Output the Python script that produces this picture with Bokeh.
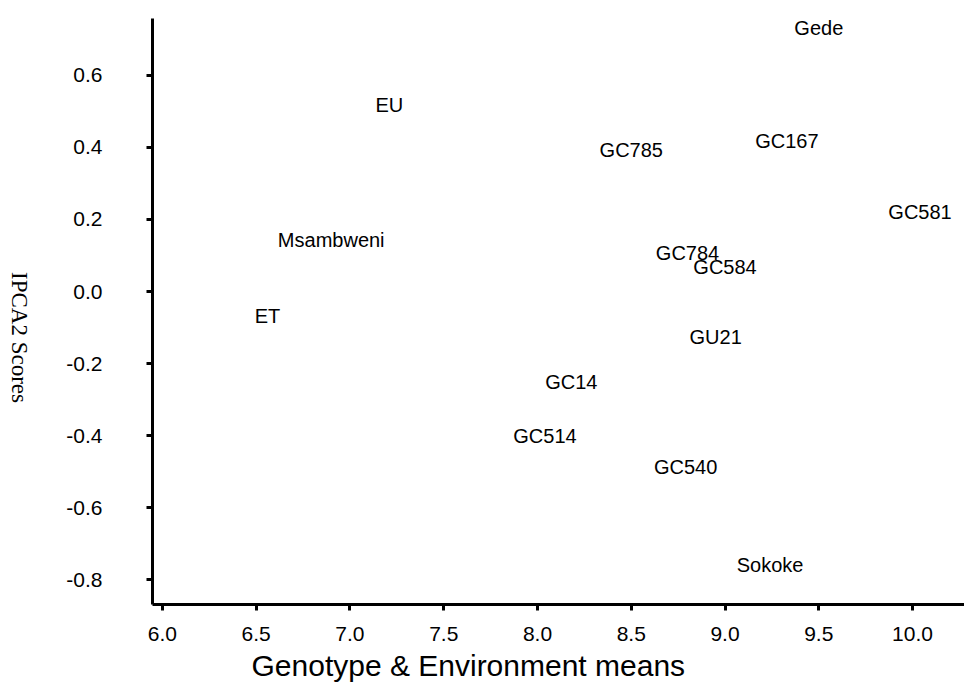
import math
from bokeh.plotting import figure
from bokeh.layouts import row
from bokeh.models import ColumnDataSource, FixedTicker, NumeralTickFormatter, Range1d, Title
from bokeh.core.properties import value
from bokeh.embed import file_html
from bokeh.resources import INLINE

# Data (text centres = point positions)
names = ["Gede", "EU", "GC785", "GC167", "GC581", "Msambweni", "GC784",
         "GC584", "GU21", "ET", "GC14", "GC514", "GC540", "Sokoke"]
means = [9.50, 7.21, 8.50, 9.33, 10.04, 6.90, 8.80,
         9.00, 8.95, 6.56, 8.18, 8.04, 8.79, 9.24]
ipca2 = [0.732, 0.517, 0.393, 0.419, 0.222, 0.144, 0.106,
         0.067, -0.125, -0.067, -0.250, -0.400, -0.486, -0.758]

x_ticks = [6.0, 6.5, 7.0, 7.5, 8.0, 8.5, 9.0, 9.5, 10.0]
y_ticks = [-0.8, -0.6, -0.4, -0.2, 0.0, 0.2, 0.4, 0.6]

x_title = "Genotype & Environment means"
y_title = "IPCA2 Scores"

FONT = "Liberation Sans"
H = 692          # total height of the layout
TW = 44          # width of the strip holding the vertical y title
FW, FH = 812, 586
LB, TB = 152 - TW, 18
BB = H - TB - FH

# ---- strip with the y-axis title (reads top to bottom, as in the reference)
pt = figure(frame_width=TW, frame_height=H, x_range=Range1d(0, TW), y_range=Range1d(0, H),
            min_border=0, x_axis_location=None, y_axis_location=None,
            output_backend="svg", toolbar_location=None)
pt.outline_line_color = None
pt.grid.visible = False
pt.text(x=[19], y=[H - 319], text=[y_title], angle=-math.pi / 2,
        text_font=value("Liberation Serif"), text_font_size="23px",
        text_color="black", text_align="center", text_baseline="middle")

# ---- main chart
p = figure(frame_width=FW, frame_height=FH,
           min_border_left=LB, min_border_right=0,
           min_border_top=TB, min_border_bottom=BB,
           x_range=Range1d(5.947, 10.277), y_range=Range1d(-0.869, 0.758),
           output_backend="svg", toolbar_location=None)

p.outline_line_color = None
p.grid.visible = False
p.background_fill_color = "white"
p.border_fill_color = "white"

for ax in (p.xaxis[0], p.yaxis[0]):
    ax.axis_line_width = 3
    ax.axis_line_color = "black"
    ax.major_tick_line_width = 3
    ax.major_tick_line_color = "black"
    ax.major_tick_in = 0
    ax.major_tick_out = 6
    ax.minor_tick_line_color = None
    ax.major_label_text_font = FONT
    ax.major_label_text_font_size = "21px"
    ax.major_label_text_color = "black"
    ax.formatter = NumeralTickFormatter(format="0.0")

xa = p.xaxis[0]
ya = p.yaxis[0]
xa.ticker = FixedTicker(ticks=x_ticks)
ya.ticker = FixedTicker(ticks=y_ticks)
xa.major_label_standoff = 16
ya.major_label_standoff = 44

# x-axis title, left of centre as in the reference
p.add_layout(Title(text=x_title, align="left", offset=99, standoff=6,
                   text_font=FONT, text_font_size="30px",
                   text_font_style="normal", text_color="black"), "below")

src = ColumnDataSource(data=dict(x=means, y=ipca2, name=names))
p.text(x="x", y="y", text="name", source=src,
       text_font=value(FONT), text_font_size="20px", text_color="black",
       text_align="center", text_baseline="middle")

layout = row(pt, p, spacing=0)
open("out.html", "w").write(file_html(layout, INLINE))
